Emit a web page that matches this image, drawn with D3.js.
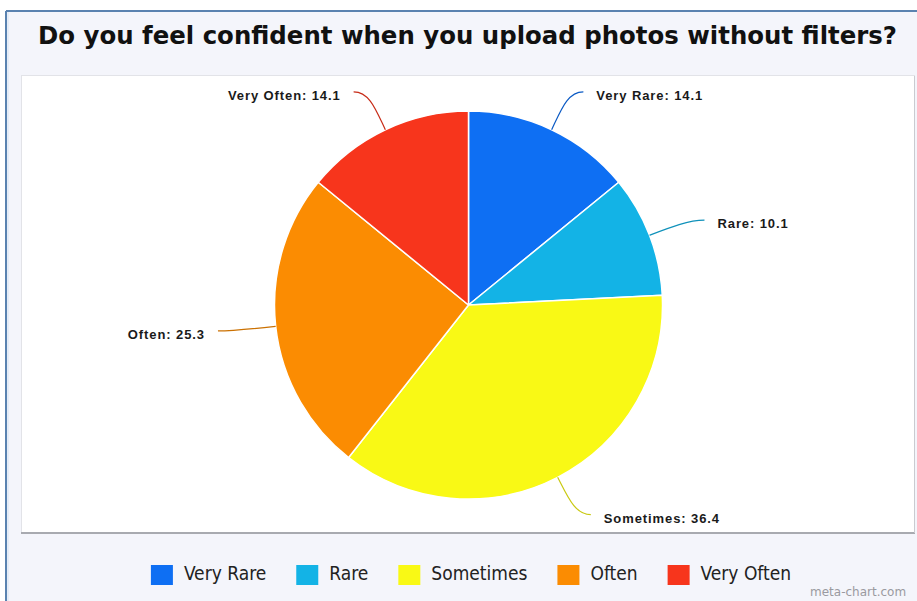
<!DOCTYPE html>
<html>
<head>
<meta charset="utf-8">
<script src="https://cdn.jsdelivr.net/npm/d3@7"></script>
<style>
  html, body { margin: 0; padding: 0; background: #ffffff; }
  svg { display: block; }
</style>
</head>
<body>
<svg id="chart" width="917" height="601"></svg>
<script>
// Survey answers and their shares (percent)
const categories = ["Very Rare", "Rare", "Sometimes", "Often", "Very Often"];
const values = [14.1, 10.1, 36.4, 25.3, 14.1];
const colors = ["#0e6ff3", "#13b3e6", "#f9f915", "#fb8c02", "#f7351c"];
const title = "Do you feel confident when you upload photos without filters?";

const W = 917, H = 601;
const svg = d3.select("#chart");

// outer frame background
svg.append("rect").attr("x", 6).attr("y", 11).attr("width", W - 6).attr("height", H - 11)
  .attr("fill", "#f4f5fb");
svg.append("line").attr("x1", 6).attr("x2", 6).attr("y1", 11).attr("y2", H)
  .attr("stroke", "#5a82b0").attr("stroke-width", 2);
svg.append("line").attr("x1", 6).attr("x2", W).attr("y1", 11).attr("y2", 11)
  .attr("stroke", "#5a82b0").attr("stroke-width", 2);
svg.append("line").attr("x1", 8).attr("x2", 8).attr("y1", 12).attr("y2", H)
  .attr("stroke", "#d6e4f3").attr("stroke-width", 1);

// title
svg.append("text")
  .attr("x", 38).attr("y", 44)
  .attr("textLength", 859).attr("lengthAdjust", "spacingAndGlyphs")
  .attr("font-family", "'DejaVu Sans Condensed', 'DejaVu Sans', sans-serif")
  .attr("font-weight", "bold").attr("font-size", 24).attr("fill", "#111")
  .text(title);

// plot panel
svg.append("rect").attr("x", 21.5).attr("y", 75.5).attr("width", 893).attr("height", 457)
  .attr("fill", "#ffffff").attr("stroke", "#e2e3e8");
svg.append("line").attr("x1", 21).attr("x2", 915).attr("y1", 533).attr("y2", 533)
  .attr("stroke", "#a8aab0").attr("stroke-width", 2);
svg.append("line").attr("x1", 914.5).attr("x2", 914.5).attr("y1", 76).attr("y2", 533)
  .attr("stroke", "#c9cbd0").attr("stroke-width", 1);

// pie
const cx = 468.5, cy = 305, r = 194;
const pie = d3.pie().sort(null).value(d => d)(values);
const arc = d3.arc().innerRadius(0).outerRadius(r);
const g = svg.append("g").attr("transform", `translate(${cx},${cy})`);

g.selectAll("path.slice").data(pie).join("path")
  .attr("class", "slice")
  .attr("d", arc)
  .attr("fill", (d, i) => colors[i])
  .attr("stroke", "#ffffff").attr("stroke-width", 1.5).attr("stroke-linejoin", "round");

// labels sit on a slightly wide ellipse around the pie, joined by curved connectors
const polar = (rad, a) => [rad * Math.sin(a), -rad * Math.cos(a)];
const labelRx = 240, labelRy = 236, connectorGap = 13;
pie.forEach((d, i) => {
  const a = (d.startAngle + d.endAngle) / 2;
  const side = Math.sin(a) >= 0 ? 1 : -1;
  const tx = labelRx * Math.sin(a) + side * 25;
  const ty = -labelRy * Math.cos(a) + 3;
  const p0 = polar(r, a);
  const p1 = polar(r + 22, a);
  const p3 = [tx - side * connectorGap, ty - 3];
  const p2 = [p3[0] - side * 16, p3[1]];
  const path = d3.path();
  path.moveTo(p0[0], p0[1]);
  path.bezierCurveTo(p1[0], p1[1], p2[0], p2[1], p3[0], p3[1]);
  g.append("path").attr("d", path.toString())
    .attr("fill", "none")
    .attr("stroke", d3.color(colors[i]).darker(0.6))
    .attr("stroke-width", 1.2);
  g.append("text")
    .attr("x", tx)
    .attr("y", ty + 5)
    .attr("text-anchor", side > 0 ? "start" : "end")
    .attr("font-family", "'Liberation Sans', Arial, sans-serif")
    .attr("font-weight", "bold").attr("font-size", 13)
    .attr("letter-spacing", 0.9)
    .attr("fill", "#1a1a1a")
    .text(`${categories[i]}: ${values[i]}`);
});

// legend
const legend = svg.append("g");
const items = legend.selectAll("g").data(categories).join("g");
items.append("rect").attr("width", 22).attr("height", 20).attr("y", -15)
  .attr("fill", (d, i) => colors[i]);
items.append("text").attr("x", 33).attr("y", 0)
  .attr("font-family", "'DejaVu Sans Condensed', 'DejaVu Sans', sans-serif")
  .attr("font-size", 19).attr("fill", "#222")
  .text(d => d);
const itemGap = 30;
let xPos = 0;
const offsets = [];
items.each(function () {
  offsets.push(xPos);
  xPos += this.getBBox().width + itemGap;
});
const total = xPos - itemGap;
const startX = 471 - total / 2;
items.attr("transform", (d, i) => `translate(${startX + offsets[i]},580)`);

// footer credit
svg.append("text").attr("x", 810).attr("y", 596)
  .attr("font-family", "'DejaVu Sans', sans-serif").attr("font-size", 12)
  .attr("fill", "#9a9aa0").text("meta-chart.com");
</script>
</body>
</html>
